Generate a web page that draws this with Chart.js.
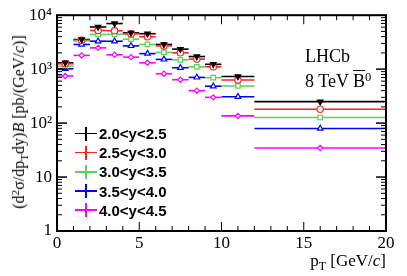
<!DOCTYPE html>
<html lang="en">
  <head>
    <meta charset="UTF-8" />
    <title>B0bar differential cross-section</title>
    <script src="https://cdn.jsdelivr.net/npm/chart.js"></script>
    <style>
      body {
        margin: 0;
        background: #fff;
      }
      #wrap {
        position: relative;
        width: 407px;
        height: 276px;
        font-family: "Liberation Serif", "DejaVu Serif", serif;
        color: #000;
      }
      canvas {
        position: absolute;
        left: 0;
        top: 0;
      }
      .lbl {
        position: absolute;
        white-space: nowrap;
        line-height: 1;
      }
      .lbl sub {
        font-size: 0.7em;
        vertical-align: -0.35em;
        line-height: 0;
      }
      .lbl sup {
        font-size: 0.7em;
        vertical-align: 0.45em;
        line-height: 0;
      }
      #ytitle {
        left: 19px;
        top: 122px;
        font-size: 16px;
        transform: translate(-50%, -50%) rotate(-90deg);
      }
      #xtitle {
        right: 21px;
        top: 252px;
        font-size: 17px;
      }
      #lhcb {
        left: 305px;
        top: 47px;
        font-size: 18px;
      }
      #energy {
        left: 305px;
        top: 72px;
        font-size: 18px;
      }
      .bar {
        text-decoration: overline;
      }
      #legend {
        position: absolute;
        left: 75px;
        top: 124px;
        font-family: "Liberation Sans", Arial, sans-serif;
        font-weight: bold;
        font-size: 15px;
      }
      .row {
        height: 19.2px;
        display: flex;
        align-items: center;
      }
      .cross {
        position: relative;
        width: 22px;
        height: 14px;
        margin-right: 2px;
      }
      .cross::before,
      .cross::after {
        content: "";
        position: absolute;
        background: var(--c);
      }
      .cross::before {
        left: 0;
        top: 6px;
        width: 22px;
        height: 1.6px;
      }
      .cross::after {
        left: 10px;
        top: 0;
        width: 1.6px;
        height: 14px;
      }
    </style>
  </head>
  <body>
    <div id="wrap">
      <canvas id="chart" width="407" height="276"></canvas>
      <div class="lbl" id="ytitle">
        (d<sup>2</sup>σ/dp<sub>T</sub>dy)<i>B</i> [pb/(GeV/<i>c</i>)]
      </div>
      <div class="lbl" id="xtitle">p<sub>T</sub> [GeV/<i>c</i>]</div>
      <div class="lbl" id="lhcb">LHCb</div>
      <div class="lbl" id="energy">8 TeV <span class="bar">B</span><sup>0</sup></div>
      <div id="legend"></div>
    </div>
    <script>
      // pT bins [GeV/c]
      const binLo = [0, 1, 2, 3, 4, 5, 6, 7, 8, 9, 10, 12];
      const binHi = [1, 2, 3, 4, 5, 6, 7, 8, 9, 10, 12, 20];

      // cross-section times B, pb/(GeV/c)
      const y20_25 = [1310, 3540, 6050, 7000, 4700, 4540, 2870, 2350, 1715, 1230, 733, 250];
      const y25_30 = [1260, 3440, 5200, 5150, 4500, 3990, 2700, 2010, 1535, 1107, 629, 181];
      const y30_35 = [1140, 3340, 4390, 4420, 3590, 2870, 2040, 1490, 1103, 694, 488, 127];
      const y35_40 = [1017, 2870, 3300, 3290, 2700, 1940, 1517, 1062, 703, 483, 308, 79.5];
      const y40_45 = [746, 1800, 2480, 1845, 1670, 1313, 822, 637, 399, 300, 136, 34.6];

      const seriesLabels = ["2.0<y<2.5", "2.5<y<3.0", "3.0<y<3.5", "3.5<y<4.0", "4.0<y<4.5"];
      const seriesValues = [y20_25, y25_30, y30_35, y35_40, y40_45];
      const colors = ["#000000", "#ff2020", "#55d455", "#0000ff", "#ff00ff"];
      const markers = ["triangle", "circle", "rect", "triangle", "rectRot"];

      const yLabels = { 1: "1", 10: "10", 100: "10²", 1000: "10³", 10000: "10⁴" };

      function line(ctx, x1, y1, x2, y2) {
        ctx.beginPath();
        ctx.moveTo(x1, y1);
        ctx.lineTo(x2, y2);
        ctx.stroke();
      }

      // horizontal bars spanning each pT bin, drawn under the markers
      const binBars = {
        id: "binBars",
        beforeDatasetsDraw(chart) {
          const { ctx, scales } = chart;
          ctx.save();
          ctx.lineWidth = 1.6;
          chart.data.datasets.forEach((ds) => {
            ctx.strokeStyle = ds.borderColor;
            ds.data.forEach((p) => {
              const py = scales.y.getPixelForValue(p.y);
              line(ctx, scales.x.getPixelForValue(p.lo), py, scales.x.getPixelForValue(p.hi), py);
            });
          });
          ctx.restore();
        },
      };

      // ROOT style frame with ticks pointing inwards on all four sides
      const frameTicks = {
        id: "frameTicks",
        afterDraw(chart) {
          const { ctx, chartArea: a, scales } = chart;
          ctx.save();
          ctx.strokeStyle = "#000";
          ctx.lineWidth = 1;
          for (let v = 0; v <= 20; v++) {
            const px = scales.x.getPixelForValue(v);
            const len = v % 5 === 0 ? 9 : 5;
            line(ctx, px, a.bottom, px, a.bottom - len);
            line(ctx, px, a.top, px, a.top + len);
          }
          for (let d = 1; d <= 1000; d *= 10) {
            for (let m = 1; m <= 10; m++) {
              const py = scales.y.getPixelForValue(d * m);
              const len = m === 1 || m === 10 ? 10 : 5;
              line(ctx, a.left, py, a.left + len, py);
              line(ctx, a.right, py, a.right - len, py);
            }
          }
          ctx.lineWidth = 2;
          ctx.strokeRect(a.left, a.top, a.right - a.left, a.bottom - a.top);
          ctx.restore();
        },
      };

      const datasets = seriesValues.map((vals, i) => ({
        label: seriesLabels[i],
        data: vals.map((v, j) => ({
          x: (binLo[j] + binHi[j]) / 2,
          y: v,
          lo: binLo[j],
          hi: binHi[j],
        })),
        borderColor: colors[i],
        backgroundColor: i === 0 ? colors[i] : "#ffffff",
        pointStyle: markers[i],
        rotation: i === 0 ? 180 : 0,
        pointRadius: i === 4 ? 2.6 : 3.2,
        pointBorderWidth: 1.2,
        showLine: false,
      }));

      new Chart(document.getElementById("chart"), {
        type: "scatter",
        data: { datasets },
        plugins: [binBars, frameTicks],
        options: {
          responsive: false,
          animation: false,
          layout: { padding: { top: 14, right: 21, left: 0, bottom: 0 } },
          plugins: {
            legend: { display: false },
            tooltip: { enabled: false },
          },
          scales: {
            x: {
              type: "linear",
              min: 0,
              max: 20,
              afterFit: (s) => {
                s.height = 45;
              },
              grid: { display: false, drawTicks: false },
              border: { display: false },
              ticks: {
                stepSize: 5,
                padding: 2,
                color: "#000",
                font: { family: "Liberation Serif", size: 17 },
              },
            },
            y: {
              type: "logarithmic",
              min: 1,
              max: 10000,
              afterFit: (s) => {
                s.width = 57;
              },
              grid: { display: false, drawTicks: false },
              border: { display: false },
              ticks: {
                autoSkip: false,
                padding: 5,
                color: "#000",
                font: { family: "Liberation Serif", size: 17 },
                callback: (v) => yLabels[v] ?? "",
              },
            },
          },
        },
      });

      const legend = document.getElementById("legend");
      seriesLabels.forEach((name, i) => {
        const row = document.createElement("div");
        row.className = "row";
        row.innerHTML = `<span class="cross" style="--c:${colors[i]}"></span><span></span>`;
        row.lastChild.textContent = name;
        legend.appendChild(row);
      });
    </script>
  </body>
</html>
